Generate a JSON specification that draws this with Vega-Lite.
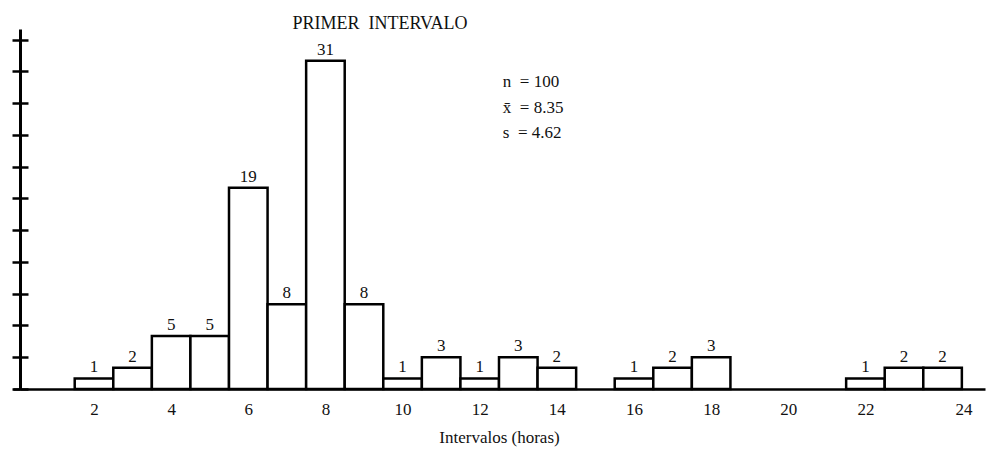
{
  "$schema": "https://vega.github.io/schema/vega-lite/v6.json",
  "width": 972,
  "height": 360,
  "autosize": "none",
  "padding": {"left": 13, "top": 29, "right": 1, "bottom": 64},
  "background": "white",
  "config": {"view": {"stroke": null}, "font": "Liberation Serif"},
  "title": {
    "text": "PRIMER\u2002INTERVALO",
    "anchor": "middle",
    "dx": -119,
    "offset": -4,
    "fontSize": 18,
    "fontWeight": "normal",
    "font": "Liberation Serif",
    "color": "#111"
  },
  "data": {
    "values": [
      {"h": 2, "desde": 1.5, "hasta": 2.5, "n": 1},
      {"h": 3, "desde": 2.5, "hasta": 3.5, "n": 2},
      {"h": 4, "desde": 3.5, "hasta": 4.5, "n": 5},
      {"h": 5, "desde": 4.5, "hasta": 5.5, "n": 5},
      {"h": 6, "desde": 5.5, "hasta": 6.5, "n": 19},
      {"h": 7, "desde": 6.5, "hasta": 7.5, "n": 8},
      {"h": 8, "desde": 7.5, "hasta": 8.5, "n": 31},
      {"h": 9, "desde": 8.5, "hasta": 9.5, "n": 8},
      {"h": 10, "desde": 9.5, "hasta": 10.5, "n": 1},
      {"h": 11, "desde": 10.5, "hasta": 11.5, "n": 3},
      {"h": 12, "desde": 11.5, "hasta": 12.5, "n": 1},
      {"h": 13, "desde": 12.5, "hasta": 13.5, "n": 3},
      {"h": 14, "desde": 13.5, "hasta": 14.5, "n": 2},
      {"h": 16, "desde": 15.5, "hasta": 16.5, "n": 1},
      {"h": 17, "desde": 16.5, "hasta": 17.5, "n": 2},
      {"h": 18, "desde": 17.5, "hasta": 18.5, "n": 3},
      {"h": 22, "desde": 21.5, "hasta": 22.5, "n": 1},
      {"h": 23, "desde": 22.5, "hasta": 23.5, "n": 2},
      {"h": 24, "desde": 23.5, "hasta": 24.5, "n": 2}
    ]
  },
  "resolve": {"axis": {"y": "independent"}},
  "layer": [
    {
      "mark": {"type": "rect", "fill": "white", "stroke": "black", "strokeWidth": 2.5},
      "encoding": {
        "x": {
          "field": "desde",
          "type": "quantitative",
          "title": "Intervalos (horas)",
          "scale": {"domain": [-0.1, 25.1], "nice": false, "zero": false},
          "axis": {
            "values": [2, 4, 6, 8, 10, 12, 14, 16, 18, 20, 22, 24],
            "domainColor": "black",
            "domainWidth": 2.5,
            "ticks": false,
            "grid": false,
            "labelFont": "Liberation Serif",
            "labelFontSize": 17,
            "labelColor": "#111",
            "labelPadding": 12,
            "labelOffset": {"condition": {"test": "datum.value === 24", "value": 21}, "value": 0},
            "titleFont": "Liberation Serif",
            "titleFontSize": 17,
            "titleFontWeight": "normal",
            "titleColor": "#111",
            "titlePadding": 12
          }
        },
        "x2": {"field": "hasta"},
        "y": {
          "field": "n",
          "type": "quantitative",
          "scale": {"domain": [0, 34], "nice": false},
          "axis": {
            "orient": "left",
            "offset": -7,
            "values": [0, 3, 6, 9, 12, 15, 18, 21, 24, 27, 30, 33],
            "domainColor": "black",
            "domainWidth": 3,
            "tickColor": "black",
            "tickWidth": 2.5,
            "tickSize": 8,
            "labels": false,
            "grid": false,
            "title": null
          }
        },
        "y2": {"datum": 0}
      }
    },
    {
      "mark": {
        "type": "text",
        "baseline": "alphabetic",
        "dy": -6,
        "fontSize": 17,
        "font": "Liberation Serif",
        "fill": "#111"
      },
      "encoding": {
        "x": {"field": "h", "type": "quantitative", "title": "Intervalos (horas)"},
        "y": {
          "field": "n",
          "type": "quantitative",
          "axis": {
            "orient": "left",
            "offset": -7,
            "values": [0, 3, 6, 9, 12, 15, 18, 21, 24, 27, 30, 33],
            "domain": false,
            "tickColor": "black",
            "tickWidth": 2.5,
            "tickSize": -8,
            "labels": false,
            "grid": false,
            "title": null
          }
        },
        "text": {"field": "n"}
      }
    },
    {
      "data": {"values": [{"resumen": "estadisticos"}]},
      "mark": {
        "type": "text",
        "align": "left",
        "baseline": "alphabetic",
        "lineHeight": 25.5,
        "fontSize": 17,
        "font": "Liberation Serif",
        "fill": "#111"
      },
      "encoding": {
        "x": {"datum": 12.6},
        "y": {"datum": 28.5, "axis": null},
        "text": {"value": ["n\u00a0\u00a0= 100", "x̄\u00a0\u00a0= 8.35", "s\u00a0\u00a0= 4.62"]}
      }
    }
  ]
}
